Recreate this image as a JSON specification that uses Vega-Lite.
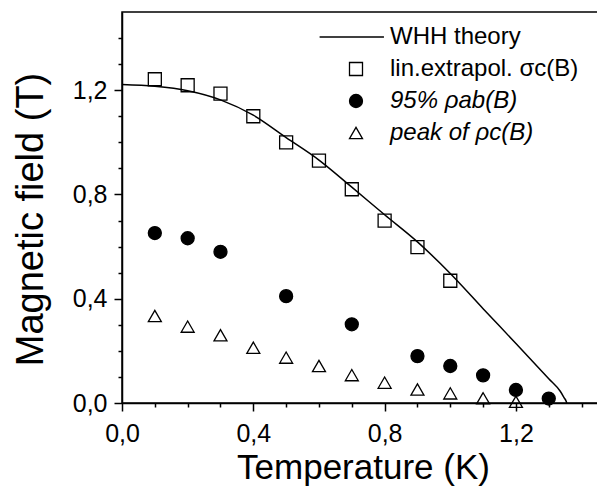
{
  "$schema": "https://vega.github.io/schema/vega-lite/v6.json",
  "autosize": "none",
  "padding": {"left": 122, "top": 12, "right": 0, "bottom": 83},
  "width": 476,
  "height": 391,
  "background": "white",
  "config": {
    "font": "Liberation Sans",
    "view": {"stroke": "black", "strokeWidth": 1.5},
    "axis": {
      "grid": false,
      "domainColor": "black",
      "domainWidth": 1.5,
      "tickColor": "black",
      "tickWidth": 1.5,
      "labelColor": "black",
      "titleColor": "black",
      "labelFont": "Liberation Sans",
      "titleFont": "Liberation Sans",
      "titleFontWeight": "normal",
      "labelFontSize": 25,
      "labelFlush": false,
      "labelOverlap": false
    }
  },
  "data": {
    "values": [
      {"series": "WHH theory", "T": 0.0, "B": 1.222},
      {"series": "WHH theory", "T": 0.1, "B": 1.215},
      {"series": "WHH theory", "T": 0.2, "B": 1.198},
      {"series": "WHH theory", "T": 0.3, "B": 1.163},
      {"series": "WHH theory", "T": 0.4, "B": 1.104},
      {"series": "WHH theory", "T": 0.5, "B": 1.018},
      {"series": "WHH theory", "T": 0.6, "B": 0.932},
      {"series": "WHH theory", "T": 0.7, "B": 0.828},
      {"series": "WHH theory", "T": 0.8, "B": 0.722},
      {"series": "WHH theory", "T": 0.9, "B": 0.618},
      {"series": "WHH theory", "T": 1.0, "B": 0.497},
      {"series": "WHH theory", "T": 1.1, "B": 0.362},
      {"series": "WHH theory", "T": 1.2, "B": 0.228},
      {"series": "WHH theory", "T": 1.3, "B": 0.093},
      {"series": "WHH theory", "T": 1.335, "B": 0.045},
      {"series": "WHH theory", "T": 1.347, "B": 0.02},
      {"series": "WHH theory", "T": 1.353, "B": 0.007},
      {"series": "WHH theory", "T": 1.355, "B": 0.0},
      {"series": "lin.extrapol. σc(B)", "T": 0.1, "B": 1.242},
      {"series": "lin.extrapol. σc(B)", "T": 0.2, "B": 1.219},
      {"series": "lin.extrapol. σc(B)", "T": 0.3, "B": 1.187},
      {"series": "lin.extrapol. σc(B)", "T": 0.4, "B": 1.1},
      {"series": "lin.extrapol. σc(B)", "T": 0.5, "B": 1.0},
      {"series": "lin.extrapol. σc(B)", "T": 0.6, "B": 0.93},
      {"series": "lin.extrapol. σc(B)", "T": 0.7, "B": 0.82},
      {"series": "lin.extrapol. σc(B)", "T": 0.8, "B": 0.7},
      {"series": "lin.extrapol. σc(B)", "T": 0.9, "B": 0.598},
      {"series": "lin.extrapol. σc(B)", "T": 1.0, "B": 0.469},
      {"series": "peak of ρc(B)", "T": 0.1, "B": 0.334},
      {"series": "peak of ρc(B)", "T": 0.2, "B": 0.293},
      {"series": "peak of ρc(B)", "T": 0.3, "B": 0.26},
      {"series": "peak of ρc(B)", "T": 0.4, "B": 0.212},
      {"series": "peak of ρc(B)", "T": 0.5, "B": 0.174},
      {"series": "peak of ρc(B)", "T": 0.6, "B": 0.142},
      {"series": "peak of ρc(B)", "T": 0.7, "B": 0.107},
      {"series": "peak of ρc(B)", "T": 0.8, "B": 0.078},
      {"series": "peak of ρc(B)", "T": 0.9, "B": 0.052},
      {"series": "peak of ρc(B)", "T": 1.0, "B": 0.037},
      {"series": "peak of ρc(B)", "T": 1.1, "B": 0.018},
      {"series": "peak of ρc(B)", "T": 1.2, "B": 0.005},
      {"series": "95% ρab(B)", "T": 0.1, "B": 0.652},
      {"series": "95% ρab(B)", "T": 0.2, "B": 0.632},
      {"series": "95% ρab(B)", "T": 0.3, "B": 0.58},
      {"series": "95% ρab(B)", "T": 0.5, "B": 0.41},
      {"series": "95% ρab(B)", "T": 0.7, "B": 0.302},
      {"series": "95% ρab(B)", "T": 0.9, "B": 0.18},
      {"series": "95% ρab(B)", "T": 1.0, "B": 0.142},
      {"series": "95% ρab(B)", "T": 1.1, "B": 0.106},
      {"series": "95% ρab(B)", "T": 1.2, "B": 0.05},
      {"series": "95% ρab(B)", "T": 1.3, "B": 0.017}
    ]
  },
  "encoding": {
    "x": {
      "field": "T",
      "type": "quantitative",
      "scale": {"domain": [0, 1.45], "nice": false, "zero": false},
      "axis": {
        "values": [0, 0.1, 0.2, 0.3, 0.4, 0.5, 0.6, 0.7, 0.8, 0.9, 1.0, 1.1, 1.2, 1.3, 1.4],
        "title": "Temperature (K)",
        "titleFontSize": 35,
        "titleX": 241,
        "titleY": 75,
        "titleBaseline": "alphabetic",
        "labelExpr": "abs(datum.value / 0.4 - round(datum.value / 0.4)) < 0.01 ? replace(format(datum.value, '.1f'), '.', ',') : ''",
        "labelBaseline": "alphabetic",
        "labelPadding": 30,
        "tickSize": {"condition": {"test": "abs(datum.value / 0.4 - round(datum.value / 0.4)) < 0.01", "value": 8}, "value": 4}
      }
    },
    "y": {
      "field": "B",
      "type": "quantitative",
      "scale": {"domain": [0, 1.5], "nice": false},
      "axis": {
        "values": [0, 0.1, 0.2, 0.3, 0.4, 0.5, 0.6, 0.7, 0.8, 0.9, 1.0, 1.1, 1.2, 1.3, 1.4],
        "title": "Magnetic field (T)",
        "titleFontSize": 38,
        "titleX": -80,
        "titleY": 207,
        "titleAngle": 270,
        "titleAlign": "center",
        "titleBaseline": "alphabetic",
        "labelExpr": "abs(datum.value / 0.4 - round(datum.value / 0.4)) < 0.01 ? replace(format(datum.value, '.1f'), '.', ',') : ''",
        "labelPadding": 7,
        "tickSize": {"condition": {"test": "abs(datum.value / 0.4 - round(datum.value / 0.4)) < 0.01", "value": 8}, "value": 4}
      }
    }
  },
  "layer": [
    {
      "transform": [{"filter": "datum.series == 'WHH theory'"}],
      "mark": {"type": "line", "color": "black", "strokeWidth": 1.5, "interpolate": "monotone"},
      "encoding": {}
    },
    {
      "transform": [{"filter": "datum.series != 'WHH theory'"}],
      "mark": {"type": "point", "filled": true, "stroke": "black", "strokeWidth": 1.3, "opacity": 1},
      "encoding": {
        "shape": {
          "field": "series",
          "type": "nominal",
          "scale": {
            "domain": ["WHH theory", "lin.extrapol. σc(B)", "95% ρab(B)", "peak of ρc(B)"],
            "range": ["M-5.6,0H4.3", "square", "circle", "triangle-up"]
          },
          "legend": {
            "orient": "none",
            "legendX": 222,
            "legendY": 13,
            "title": null,
            "padding": 0,
            "labelFontSize": 24,
            "labelFont": "Liberation Sans",
            "labelColor": "black",
            "labelOffset": 22,
            "labelLimit": 0,
            "rowPadding": 8,
            "symbolStrokeColor": "black",
            "symbolStrokeWidth": 1.3,
            "labelFontStyle": {"expr": "datum.label == 'WHH theory' || indexof(datum.label, 'lin') == 0 ? 'normal' : 'italic'"}
          }
        },
        "fill": {
          "field": "series",
          "type": "nominal",
          "scale": {
            "domain": ["WHH theory", "lin.extrapol. σc(B)", "95% ρab(B)", "peak of ρc(B)"],
            "range": ["transparent", "transparent", "black", "transparent"]
          }
        },
        "size": {
          "field": "series",
          "type": "nominal",
          "scale": {
            "domain": ["WHH theory", "lin.extrapol. σc(B)", "95% ρab(B)", "peak of ρc(B)"],
            "range": [169, 169, 133, 256]
          }
        }
      }
    }
  ]
}
